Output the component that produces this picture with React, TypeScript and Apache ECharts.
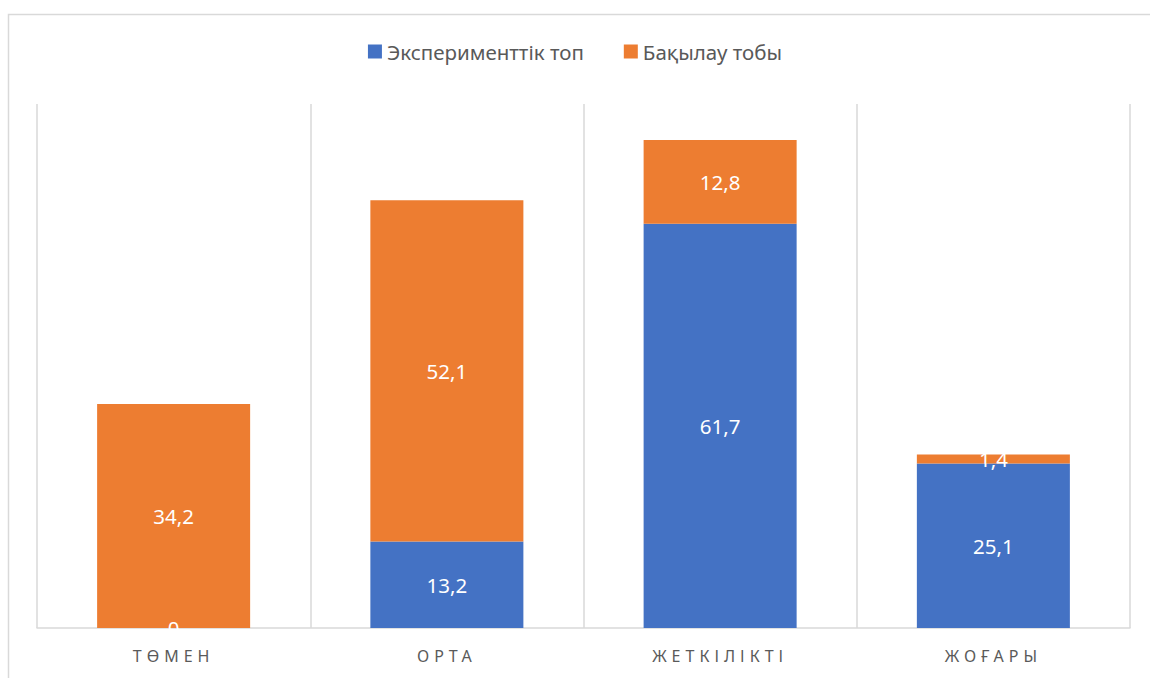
import React, { useEffect, useRef } from "react";
import * as echarts from "echarts";

const categories = ["ТӨМЕН", "ОРТА", "ЖЕТКІЛІКТІ", "ЖОҒАРЫ"];
const experimental = [0, 13.2, 61.7, 25.1];
const control = [34.2, 52.1, 12.8, 1.4];
const seriesNames = ["Эксперименттік топ", "Бақылау тобы"];

const FONT = "'Noto Sans', 'Open Sans', sans-serif";

export default function App() {
  const ref = useRef<HTMLDivElement>(null);
  useEffect(() => {
    if (!ref.current) return;
    const chart = echarts.init(ref.current, null, { renderer: "svg" });
    const fmt = (p: any) => String(p.value).replace(".", ",");
    chart.setOption({
      animation: false,
      backgroundColor: "#ffffff",
      graphic: [
        {
          type: "rect",
          shape: { x: 8.5, y: 14.5, width: 1300, height: 800 },
          style: { fill: "none", stroke: "#d9d9d9", lineWidth: 1.5 },
          silent: true,
        },
      ],
      legend: {
        top: 36,
        left: "center",
        itemWidth: 14,
        itemHeight: 14,
        itemGap: 40,
        icon: "rect",
        textStyle: { color: "#595959", fontSize: 20.5, fontFamily: FONT },
        data: seriesNames,
      },
      grid: { left: 37, right: 20, top: 104, bottom: 50 },
      xAxis: {
        type: "category",
        data: categories,
        axisLine: { show: true, lineStyle: { color: "#d9d9d9", width: 1.5 } },
        axisTick: { show: false },
        splitLine: { show: true, interval: 0, lineStyle: { color: "#d9d9d9", width: 1.5 } },
        axisLabel: {
          color: "#5a5a5a",
          fontSize: 16,
          fontFamily: FONT,
          margin: 20,
          interval: 0,
        },
      },
      yAxis: {
        type: "value",
        min: 0,
        max: 80,
        show: false,
        splitLine: { show: false },
      },
      series: [
        {
          name: seriesNames[0],
          type: "bar",
          stack: "total",
          data: experimental,
          barWidth: "56%",
          itemStyle: { color: "#4472c4" },
          label: {
            show: true,
            position: "inside",
            color: "#ffffff",
            fontSize: 20.5,
            fontFamily: FONT,
            formatter: fmt,
          },
        },
        {
          name: seriesNames[1],
          type: "bar",
          stack: "total",
          data: control,
          barWidth: "56%",
          itemStyle: { color: "#ed7d31" },
          label: {
            show: true,
            position: "inside",
            color: "#ffffff",
            fontSize: 20.5,
            fontFamily: FONT,
            formatter: fmt,
          },
        },
      ],
    });
    return () => chart.dispose();
  }, []);
  return (
    <div style={{ position: "fixed", left: 0, top: 0, width: 1150, height: 678 }}>
      <style>{`text[fill="#5a5a5a"]{letter-spacing:5px;}`}</style>
      <div ref={ref} style={{ width: 1150, height: 678 }} />
    </div>
  );
}
